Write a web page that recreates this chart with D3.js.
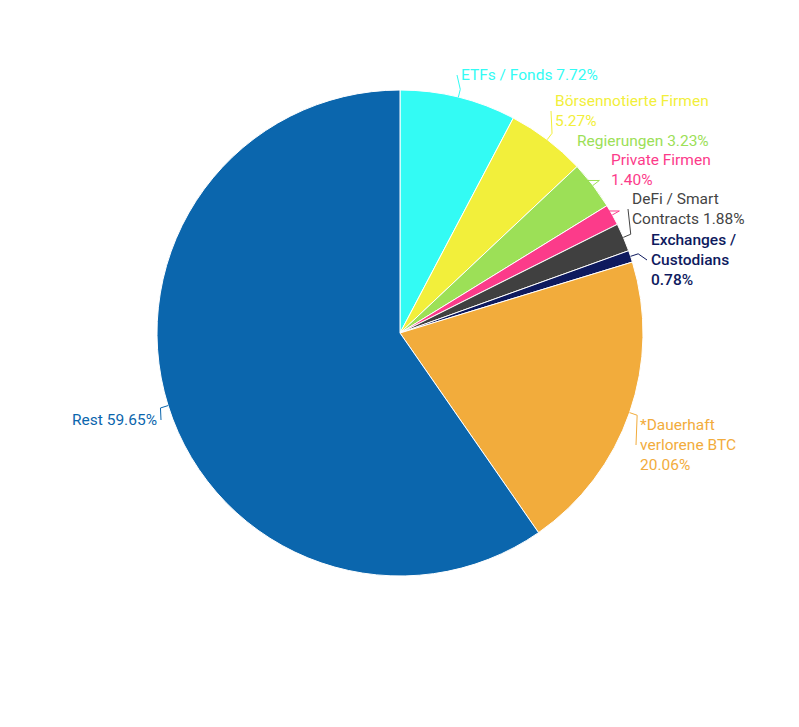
<!DOCTYPE html>
<html><head><meta charset="utf-8">
<script src="https://cdn.jsdelivr.net/npm/d3@7"></script>
<style>body{margin:0;background:#fff}text{font-family:Roboto,sans-serif;font-size:15.5px}</style>
</head><body><svg id="c" width="799" height="727"></svg>
<script>
const categories = ["ETFs / Fonds","Börsennotierte Firmen","Regierungen","Private Firmen","DeFi / Smart Contracts","Exchanges / Custodians","*Dauerhaft verlorene BTC","Rest"];
const values = [7.72,5.27,3.23,1.40,1.88,0.78,20.06,59.65];
const colors = ["#33FBF4","#F2EF3B","#9CE057","#FC3B8A","#404040","#0E1A5E","#F2AC3C","#0B66AD"];
const textColors = ["#33FBF4","#F2EF3B","#9CE057","#FC3B8A","#444444","#0E1A5E","#F2AC3C","#0B66AD"];
const labelLines = [["ETFs / Fonds 7.72%"],["Börsennotierte Firmen","5.27%"],["Regierungen 3.23%"],["Private Firmen","1.40%"],["DeFi / Smart","Contracts 1.88%"],["Exchanges /","Custodians","0.78%"],["*Dauerhaft","verlorene BTC","20.06%"],["Rest 59.65%"]];
// label layout: text anchor x, first-line center y, anchor side
const labelPos = [[461,75,"start"],[555,101,"start"],[577,141,"start"],[611,160,"start"],[632,199,"start"],[651,240,"start"],[640,425,"start"],[157,420,"end"]];

const cx=400, cy=333, R=243;
const svg=d3.select("#c");
const g=svg.append("g").attr("transform",`translate(${cx},${cy})`);
const pie=d3.pie().sort(null).value(d=>d)(values);
const arc=d3.arc().innerRadius(0).outerRadius(R);
g.selectAll("path").data(pie).join("path").attr("d",arc)
  .attr("fill",(d,i)=>colors[i]).attr("stroke","#fff").attr("stroke-width",1);

pie.forEach((d,i)=>{
  const a=(d.startAngle+d.endAngle)/2;
  const p0=[Math.sin(a)*R, -Math.cos(a)*R];
  const p1=[Math.sin(a)*(R+8), -Math.cos(a)*(R+8)];
  const [lx,ly,anc]=labelPos[i];
  const lines=labelLines[i];
  const tx=lx-cx, ty=ly-cy;
  const endY = ty + (lines.length-1)*10;
  const endX = anc==="start" ? tx-4 : tx+4;
  g.append("path").attr("d",`M${p0[0]},${p0[1]}L${p1[0]},${p1[1]}L${endX},${Math.abs(endY-p1[1])<30?endY:p1[1]}`)
    .attr("fill","none").attr("stroke",textColors[i]).attr("stroke-width",1);
  const t=g.append("text").attr("text-anchor",anc).attr("fill",textColors[i])
    .attr("font-weight",i===5?500:400);
  lines.forEach((s,k)=>t.append("tspan").attr("x",tx).attr("y",ty+k*20).attr("dy","0.35em").text(s));
});
</script></body></html>
